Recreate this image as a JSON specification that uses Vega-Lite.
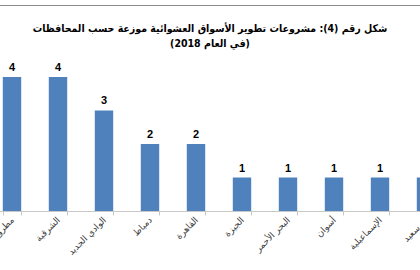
{
  "$schema": "https://vega.github.io/schema/vega-lite/v6.json",
  "autosize": "none",
  "width": 460,
  "height": 258,
  "padding": {"left": -11, "top": 5, "right": 0, "bottom": 0},
  "background": "white",
  "title": {
    "text": ["شكل رقم (4): مشروعات تطوير الأسواق العشوائية موزعة حسب المحافظات", "(في العام 2018)"],
    "font": "DejaVu Sans Condensed",
    "fontSize": 10.5,
    "fontWeight": "bold",
    "color": "#000000",
    "anchor": "middle",
    "baseline": "top",
    "offset": 0,
    "dy": 44,
    "dx": -9,
    "lineHeight": 15
  },
  "data": {
    "values": [
      {"gov": "مطروح", "n": 4},
      {"gov": "الشرقية", "n": 4},
      {"gov": "الوادي الجديد", "n": 3},
      {"gov": "دمياط", "n": 2},
      {"gov": "القاهرة", "n": 2},
      {"gov": "الجيزة", "n": 1},
      {"gov": "البحر الأحمر", "n": 1},
      {"gov": "أسوان", "n": 1},
      {"gov": "الإسماعيلية", "n": 1},
      {"gov": "بورسعيد", "n": 1}
    ]
  },
  "encoding": {
    "x": {
      "field": "gov",
      "type": "nominal",
      "sort": null,
      "scale": {"paddingInner": 0.6, "paddingOuter": 0.3},
      "axis": {
        "title": null,
        "labelAngle": -45,
        "labelAlign": "right",
        "labelBaseline": "middle",
        "labelFont": "DejaVu Sans",
        "labelFontSize": 9,
        "labelColor": "#404040",
        "labelPadding": 3,
        "tickBand": "extent",
        "tickSize": 4,
        "tickColor": "#c8c8c8",
        "domainColor": "#c8c8c8",
        "offset": -52,
        "grid": false
      }
    }
  },
  "layer": [
    {
      "mark": {"type": "bar", "color": "#4F81BD"},
      "encoding": {
        "y": {
          "field": "n",
          "type": "quantitative",
          "scale": {"domain": [-1.552, 6.149], "nice": false, "zero": false},
          "axis": null
        },
        "y2": {"datum": 0}
      }
    },
    {
      "mark": {"type": "text", "dy": -9, "font": "Liberation Sans", "fontSize": 11, "fontWeight": "bold", "color": "#000000"},
      "encoding": {
        "y": {"field": "n", "type": "quantitative"},
        "text": {"field": "n", "type": "quantitative"}
      }
    }
  ],
  "config": {
    "view": {"stroke": "#8c8c8c", "strokeWidth": 1}
  }
}
